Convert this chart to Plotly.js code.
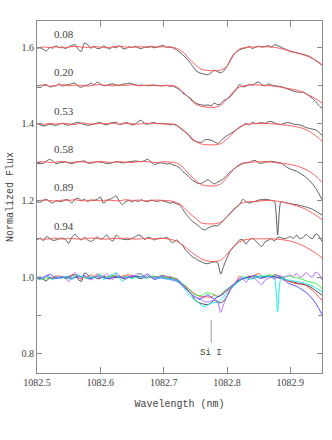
<!DOCTYPE html>
<html>
<head>
<meta charset="utf-8">
<script src="https://cdn.plot.ly/plotly-3.0.1.min.js"></script>
<style>html,body{margin:0;padding:0;background:#fff;}#chart{width:332px;height:440px;}</style>
</head>
<body>
<div id="chart"></div>
<script>
// Observed wavelength grid (nm)
var wlObs = [1082.500,1082.505,1082.510,1082.515,1082.520,1082.525,1082.530,1082.535,1082.540,1082.545,
1082.550,1082.555,1082.560,1082.565,1082.570,1082.575,1082.580,1082.585,1082.590,1082.595,
1082.600,1082.605,1082.610,1082.615,1082.620,1082.625,1082.630,1082.635,1082.640,1082.645,
1082.650,1082.655,1082.660,1082.665,1082.670,1082.675,1082.680,1082.685,1082.690,1082.695,
1082.700,1082.705,1082.710,1082.715,1082.720,1082.725,1082.730,1082.735,1082.740,1082.745,
1082.750,1082.755,1082.760,1082.765,1082.770,1082.775,1082.780,1082.785,1082.790,1082.795,
1082.800,1082.805,1082.810,1082.815,1082.820,1082.825,1082.830,1082.835,1082.840,1082.845,
1082.850,1082.855,1082.860,1082.865,1082.870,1082.875,1082.880,1082.885,1082.890,1082.895,
1082.900,1082.905,1082.910,1082.915,1082.920,1082.925,1082.930,1082.935,1082.940,1082.945,
1082.950];
// Model wavelength grid (nm)
var wlMod = [1082.50,1082.51,1082.52,1082.53,1082.54,1082.55,1082.56,1082.57,1082.58,1082.59,
1082.60,1082.61,1082.62,1082.63,1082.64,1082.65,1082.66,1082.67,1082.68,1082.69,
1082.70,1082.71,1082.72,1082.73,1082.74,1082.75,1082.76,1082.77,1082.78,1082.79,
1082.80,1082.81,1082.82,1082.83,1082.84,1082.85,1082.86,1082.87,1082.88,1082.89,
1082.90,1082.91,1082.92,1082.93,1082.94,1082.95];

var phases = ["0.08","0.20","0.53","0.58","0.89","0.94"];
var offsets = [0.6,0.5,0.4,0.3,0.2,0.1];
var overlayColors = ["#333333","#ff3838","#33ee33","#3838ff","#00eeee","#b060ff"];
var lineLabels = ["Si I"];
var lineWavelengths = [1082.775];

// Observed normalized spectra (no offset)
var obs008 = [0.997,0.998,0.994,0.990,0.999,0.997,1.003,0.998,1.001,0.996,
1.001,1.004,1.007,0.994,0.989,1.011,1.006,0.997,1.001,0.996,
0.997,1.003,0.999,0.995,1.001,0.998,1.003,0.997,0.995,1.001,
0.999,1.002,0.998,0.996,1.000,0.999,1.001,0.998,1.000,1.003,
1.004,0.999,1.001,0.998,0.993,0.987,0.980,0.972,0.963,0.952,
0.940,0.934,0.931,0.929,0.928,0.933,0.940,0.936,0.933,0.938,
0.950,0.965,0.980,0.988,0.993,0.996,0.998,1.002,0.996,1.000,
1.002,1.000,1.001,1.004,1.000,1.006,1.004,1.000,0.996,0.992,
0.988,0.987,0.985,0.983,0.981,0.979,0.976,0.971,0.965,0.959,
0.953];
var obs020 = [0.996,0.994,1.001,1.002,0.996,0.998,0.999,1.004,0.998,1.001,
1.002,1.005,1.006,0.998,0.995,1.000,1.001,1.006,1.002,1.009,
1.004,0.999,1.000,1.003,1.004,1.001,1.000,1.003,1.004,1.006,
1.004,1.002,1.000,1.001,1.000,0.999,1.000,1.001,1.000,0.999,
0.999,1.000,0.998,0.998,0.994,0.988,0.980,0.975,0.969,0.962,
0.955,0.951,0.949,0.948,0.949,0.947,0.954,0.950,0.952,0.961,
0.965,0.970,0.980,0.990,1.003,0.996,0.998,1.003,1.001,1.006,
1.009,1.002,0.999,1.004,1.001,0.999,0.998,0.997,0.994,0.991,
0.988,0.985,0.983,0.982,0.983,0.978,0.972,0.966,0.958,0.948,
0.940];
var obs053 = [1.001,0.997,0.994,0.996,0.999,0.997,0.996,0.999,1.001,0.998,
0.996,0.999,1.002,1.004,1.001,0.998,0.996,0.997,1.000,1.002,
1.003,0.999,0.997,1.001,1.003,1.004,0.998,1.000,1.003,1.001,
0.997,0.999,1.006,1.009,1.000,0.999,1.002,1.003,1.000,1.001,
1.001,0.999,0.997,0.998,0.996,0.990,0.983,0.977,0.969,0.958,
0.954,0.952,0.952,0.958,0.959,0.957,0.953,0.949,0.955,0.963,
0.969,0.974,0.979,0.985,0.990,0.996,1.001,0.997,1.004,1.000,
1.002,1.003,1.001,1.005,1.006,1.002,0.999,0.998,1.001,1.003,
1.002,0.999,0.998,0.997,0.994,0.990,0.988,0.986,0.984,0.978,
0.970];
var obs058 = [0.997,0.996,0.997,1.003,1.007,1.003,0.996,0.998,0.999,1.001,
0.998,0.996,0.999,1.001,1.002,1.003,0.998,0.997,0.999,1.001,
1.000,0.999,0.996,0.997,0.999,1.001,1.000,0.998,0.999,1.001,
1.002,1.003,1.002,1.001,1.004,1.008,1.000,0.994,0.996,0.998,
0.997,0.995,0.996,0.993,0.990,0.985,0.976,0.969,0.962,0.953,
0.948,0.944,0.945,0.950,0.954,0.948,0.943,0.948,0.952,0.957,
0.966,0.974,0.981,0.987,0.992,0.996,0.998,0.999,1.003,1.004,
0.998,0.997,1.000,1.001,1.002,1.001,0.999,0.998,0.992,0.986,
0.982,0.979,0.976,0.971,0.966,0.960,0.952,0.943,0.932,0.918,
0.902];
var obs089 = [0.997,0.995,1.000,1.003,0.997,0.993,1.000,0.997,0.998,1.002,
1.001,0.993,1.003,1.006,1.000,1.003,0.997,1.001,1.000,1.003,
1.009,0.993,1.000,1.003,1.007,1.012,0.998,0.989,0.997,1.000,
0.996,1.000,0.997,1.002,0.998,0.997,1.001,0.999,0.997,1.000,
0.998,0.996,0.993,0.995,0.991,0.989,0.978,0.965,0.955,0.946,
0.940,0.934,0.926,0.923,0.928,0.932,0.934,0.934,0.940,0.949,
0.958,0.967,0.976,0.983,0.990,1.003,0.997,0.993,0.996,0.998,
1.001,1.002,1.003,1.002,1.000,0.997,0.910,0.997,0.995,0.993,
0.992,0.990,0.989,0.987,0.985,0.983,0.980,0.977,0.972,0.967,
0.962];
var obs094 = [0.997,1.002,0.995,1.006,1.001,0.996,0.997,1.000,1.002,0.998,
0.988,1.004,1.012,1.003,0.997,1.004,0.997,0.993,0.998,1.005,
0.999,1.002,1.010,0.999,0.994,1.010,1.003,0.999,0.998,0.998,
1.001,1.005,1.010,1.007,0.998,1.004,1.002,0.997,1.000,1.002,
1.001,1.004,0.995,0.990,0.997,0.990,0.982,0.970,0.962,0.953,
0.949,0.943,0.940,0.936,0.935,0.938,0.940,0.938,0.908,0.930,
0.950,0.968,0.978,0.988,0.997,0.998,0.986,0.997,1.001,0.995,
0.986,0.980,0.992,0.996,1.000,0.994,1.004,1.003,1.000,1.002,
1.006,1.001,1.010,1.000,1.003,1.012,1.004,1.000,1.013,1.008,
0.993];

// Model spectra (no offset)
var mod008 = [0.998,1.000,0.999,1.001,0.998,1.000,1.002,1.000,0.999,1.001,
1.000,0.998,1.001,1.002,1.000,0.999,1.001,1.000,1.002,1.000,
1.001,0.999,0.997,0.988,0.970,0.954,0.942,0.939,0.938,0.940,
0.950,0.978,0.995,0.999,1.000,1.001,1.001,1.000,0.998,0.994,
0.990,0.985,0.980,0.974,0.966,0.954];
var mod020 = [0.999,1.001,0.998,1.000,1.002,0.999,1.001,1.000,0.998,1.001,
1.002,1.000,0.999,1.001,1.000,1.002,0.999,1.000,1.001,0.999,
1.000,1.000,0.997,0.984,0.967,0.952,0.945,0.943,0.943,0.948,
0.964,0.984,0.996,1.000,1.001,1.001,1.000,0.999,0.997,0.994,
0.991,0.988,0.982,0.974,0.965,0.954];
var mod053 = [1.000,0.998,1.001,0.999,1.001,1.000,0.998,1.002,1.000,0.999,
1.001,1.000,1.002,0.999,1.001,1.000,0.999,1.002,1.000,1.001,
0.999,1.000,0.997,0.985,0.971,0.955,0.947,0.945,0.945,0.948,
0.960,0.976,0.992,0.998,1.000,1.001,1.001,1.000,0.999,0.997,
0.995,0.992,0.988,0.980,0.969,0.954];
var mod058 = [1.000,1.001,0.999,1.000,1.002,0.999,1.000,1.001,0.999,1.000,
1.002,1.000,0.999,1.001,1.000,0.999,1.001,1.002,1.000,0.999,
1.001,1.000,0.998,0.987,0.969,0.953,0.941,0.938,0.938,0.943,
0.960,0.980,0.994,0.999,1.000,1.001,1.001,1.000,0.998,0.996,
0.994,0.990,0.984,0.976,0.964,0.947];
var mod089 = [0.999,1.001,1.000,0.998,1.001,1.000,1.002,0.999,1.000,1.001,
0.999,1.001,1.000,0.999,1.002,1.000,1.001,0.999,1.000,1.001,
1.000,0.999,0.995,0.985,0.968,0.954,0.941,0.939,0.939,0.943,
0.957,0.974,0.990,0.996,0.997,0.998,1.000,1.000,0.998,0.995,
0.991,0.986,0.980,0.972,0.962,0.950];
var mod094 = [1.001,0.999,1.000,1.002,0.999,1.001,1.000,0.999,1.001,1.002,
1.000,0.999,1.001,1.000,1.002,1.000,0.999,1.001,1.000,1.000,
1.001,0.999,0.994,0.984,0.970,0.958,0.947,0.942,0.941,0.944,
0.960,0.979,0.992,0.998,1.000,1.000,1.000,1.000,0.999,0.997,
0.994,0.989,0.982,0.973,0.963,0.950];

var observed = [obs008, obs020, obs053, obs058, obs089, obs094];
var models = [mod008, mod020, mod053, mod058, mod089, mod094];

var traces = [];
for (var k = 0; k < observed.length; k++) {
  var off = offsets[k];
  traces.push({x: wlObs, y: observed[k].map(function(v){return v + off;}),
    type: 'scatter', mode: 'lines', line: {color: '#4a4a4a', width: 0.9, shape: 'spline', smoothing: 0.6}, hoverinfo: 'skip'});
  traces.push({x: wlMod, y: models[k].map(function(v){return v + off;}),
    type: 'scatter', mode: 'lines', line: {color: '#ff4d4d', width: 0.9, shape: 'spline', smoothing: 0.8}, hoverinfo: 'skip'});
}
for (var k2 = 0; k2 < observed.length; k2++) {
  traces.push({x: wlObs, y: observed[k2], type: 'scatter', mode: 'lines',
    line: {color: overlayColors[k2], width: 0.9, shape: 'spline', smoothing: 0.6}, hoverinfo: 'skip'});
}

var textColor = '#444';
var axisColor = '#8a8a8a';
var annotations = [];
for (var a = 0; a < phases.length; a++) {
  annotations.push({x: 1082.524, y: 1.0 + offsets[a] + 0.034, xref: 'x', yref: 'y',
    text: phases[a], showarrow: false, xanchor: 'left', yanchor: 'middle',
    font: {family: 'Liberation Serif, serif', size: 11, color: textColor}});
}
var shapes = [];
for (var s = 0; s < lineLabels.length; s++) {
  shapes.push({type: 'line', xref: 'x', yref: 'y', x0: lineWavelengths[s], x1: lineWavelengths[s],
    y0: 0.829, y1: 0.889, line: {color: '#999', width: 1}});
  annotations.push({x: lineWavelengths[s], y: 0.803, xref: 'x', yref: 'y', text: lineLabels[s],
    showarrow: false, xanchor: 'center', yanchor: 'middle',
    font: {family: 'Liberation Mono, monospace', size: 9, color: textColor}});
}

var layout = {
  width: 332, height: 440,
  margin: {l: 37, r: 10, t: 21, b: 67},
  paper_bgcolor: '#fff', plot_bgcolor: '#fff',
  showlegend: false,
  xaxis: {
    range: [1082.5, 1082.95], tick0: 1082.5, dtick: 0.1, tickformat: '.1f',
    ticks: 'inside', ticklen: 6, tickcolor: axisColor, tickwidth: 1,
    showline: true, linecolor: axisColor, linewidth: 1, mirror: 'ticks',
    showgrid: false, zeroline: false,
    tickfont: {family: 'Liberation Serif, serif', size: 10, color: textColor},
    title: {text: 'Wavelength (nm)', standoff: 12,
      font: {family: 'Liberation Mono, monospace', size: 10, color: textColor}}
  },
  yaxis: {
    range: [0.75, 1.668], tick0: 0.8, dtick: 0.2, tickformat: '.1f',
    ticks: 'inside', ticklen: 5, tickcolor: axisColor, tickwidth: 1,
    minor: {dtick: 0.1, ticks: 'inside', ticklen: 4, tickcolor: axisColor},
    showline: true, linecolor: axisColor, linewidth: 1, mirror: 'ticks',
    showgrid: false, zeroline: false,
    tickfont: {family: 'Liberation Serif, serif', size: 10, color: textColor},
    title: {text: 'Normalized Flux', standoff: 6,
      font: {family: 'Liberation Mono, monospace', size: 10, color: textColor}}
  },
  annotations: annotations,
  shapes: shapes
};

Plotly.newPlot('chart', traces, layout, {staticPlot: true, displayModeBar: false});
</script>
</body>
</html>
